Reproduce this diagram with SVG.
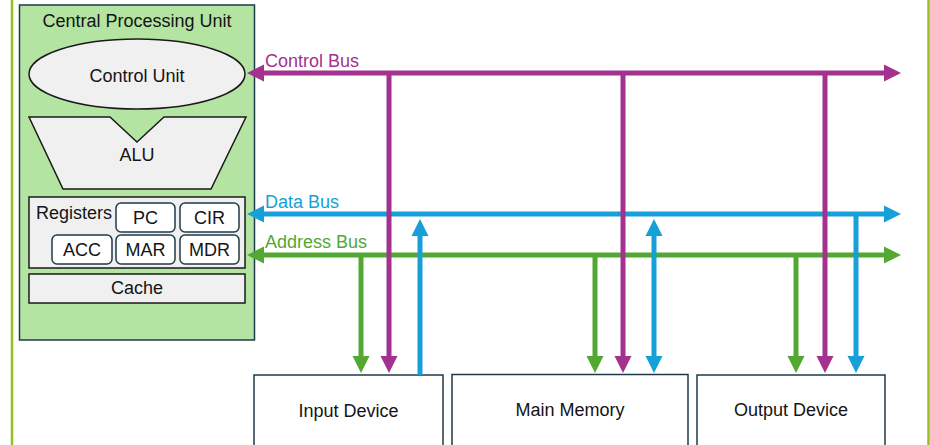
<svg xmlns="http://www.w3.org/2000/svg" width="930" height="445" viewBox="0 0 930 445">
<style>
text{font-family:"Liberation Sans",Arial,sans-serif;font-size:18px;fill:#141414}
.mid{text-anchor:middle}
.part{fill:#f0f0f0;stroke:#1a1a1a;stroke-width:1.5}
.reg{fill:#ffffff;stroke:#1f3a4a;stroke-width:1.5}
.dev{fill:#ffffff;stroke:#1f3a4a;stroke-width:1.5}
.bus{fill:none;stroke-width:5}
.c{stroke:#a2318f}
.d{stroke:#16a0d8}
.a{stroke:#52a832}
</style>
<defs>
<marker id="mc" markerUnits="userSpaceOnUse" markerWidth="18" markerHeight="18" refX="1" refY="8.5" orient="auto-start-reverse" viewBox="0 0 18 17"><path d="M0,0 L17,8.5 L0,17 z" fill="#a2318f"/></marker>
<marker id="md" markerUnits="userSpaceOnUse" markerWidth="18" markerHeight="18" refX="1" refY="8.5" orient="auto-start-reverse" viewBox="0 0 18 17"><path d="M0,0 L17,8.5 L0,17 z" fill="#16a0d8"/></marker>
<marker id="ma" markerUnits="userSpaceOnUse" markerWidth="18" markerHeight="18" refX="1" refY="8.5" orient="auto-start-reverse" viewBox="0 0 18 17"><path d="M0,0 L17,8.5 L0,17 z" fill="#52a832"/></marker>
</defs>
<rect width="930" height="445" fill="#ffffff"/>
<line x1="12" y1="0" x2="12" y2="445" stroke="#92c01f" stroke-width="2.5"/>
<line x1="928.5" y1="0" x2="928.5" y2="445" stroke="#92c01f" stroke-width="2.5"/>

<g id="cpu">
<rect x="19.5" y="5" width="235" height="335" fill="#b4e4a1" stroke="#1f3a4a" stroke-width="1.5"/>
<text class="mid" x="137" y="27">Central Processing Unit</text>
</g>
<g id="control-unit">
<ellipse cx="137" cy="74" rx="108" ry="35" class="part"/>
<text class="mid" x="137" y="82">Control Unit</text>
</g>
<g id="alu">
<polygon points="29,117 110,117 137,142 164,117 246,117 211,189 63,189" class="part"/>
<text class="mid" x="137" y="161">ALU</text>
</g>
<g id="registers">
<rect x="29" y="197" width="216" height="71" class="part"/>
<text x="36" y="219">Registers</text>
</g>
<g id="reg-pc"><rect x="116" y="203" width="59" height="29" rx="5" class="reg"/><text class="mid" x="145.5" y="224">PC</text></g>
<g id="reg-cir"><rect x="180" y="203" width="59" height="29" rx="5" class="reg"/><text class="mid" x="209.5" y="224">CIR</text></g>
<g id="reg-acc"><rect x="52" y="235" width="60" height="29" rx="5" class="reg"/><text class="mid" x="82" y="256">ACC</text></g>
<g id="reg-mar"><rect x="116" y="235" width="59" height="29" rx="5" class="reg"/><text class="mid" x="145.5" y="256">MAR</text></g>
<g id="reg-mdr"><rect x="180" y="235" width="59" height="29" rx="5" class="reg"/><text class="mid" x="209.5" y="256">MDR</text></g>
<g id="cache">
<rect x="29" y="274" width="216" height="29" class="part"/>
<text class="mid" x="137" y="294">Cache</text>
</g>

<g id="input-device"><rect x="254" y="375" width="189" height="80" class="dev"/><text class="mid" x="348.5" y="417">Input Device</text></g>
<g id="main-memory"><rect x="452" y="374.5" width="236" height="80" class="dev"/><text class="mid" x="570" y="416">Main Memory</text></g>
<g id="output-device"><rect x="697" y="375" width="188" height="80" class="dev"/><text class="mid" x="791" y="416">Output Device</text></g>

<g id="connectors">
<line class="bus c" x1="263" y1="73" x2="885" y2="73" marker-start="url(#mc)" marker-end="url(#mc)"/>
<line class="bus d" x1="263" y1="214" x2="885" y2="214" marker-start="url(#md)" marker-end="url(#md)"/>
<line class="bus a" x1="263" y1="255" x2="885" y2="255" marker-start="url(#ma)" marker-end="url(#ma)"/>
<line class="bus a" x1="361" y1="255" x2="361" y2="357" marker-end="url(#ma)"/>
<line class="bus a" x1="595" y1="255" x2="595" y2="357" marker-end="url(#ma)"/>
<line class="bus a" x1="796" y1="255" x2="796" y2="357" marker-end="url(#ma)"/>
<line class="bus d" x1="420" y1="375" x2="420" y2="235" marker-end="url(#md)"/>
<line class="bus d" x1="654" y1="235" x2="654" y2="357" marker-start="url(#md)" marker-end="url(#md)"/>
<line class="bus d" x1="856" y1="214" x2="856" y2="357" marker-end="url(#md)"/>
<line class="bus c" x1="389" y1="73" x2="389" y2="357" marker-end="url(#mc)"/>
<line class="bus c" x1="623" y1="73" x2="623" y2="357" marker-end="url(#mc)"/>
<line class="bus c" x1="825" y1="73" x2="825" y2="357" marker-end="url(#mc)"/>
<text x="265" y="67" style="fill:#a2318f">Control Bus</text>
<text x="265" y="208" style="fill:#16a0d8">Data Bus</text>
<text x="265" y="248" style="fill:#52a832">Address Bus</text>
</g>
</svg>
